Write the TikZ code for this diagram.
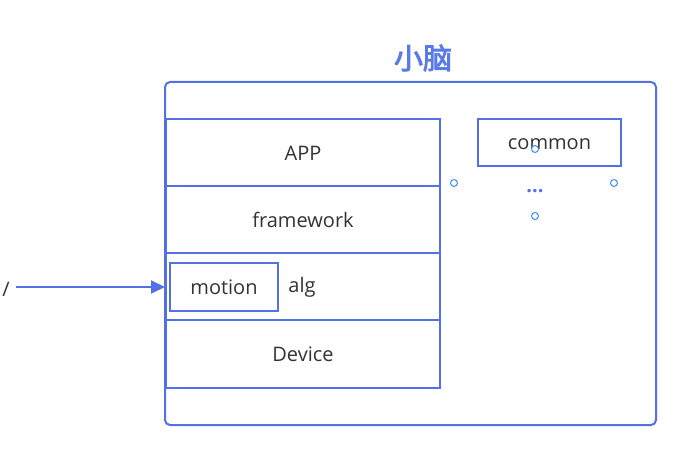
\documentclass[tikz,border=0pt]{standalone}
\usepackage{fontspec}
\setmainfont{Open Sans}
\newfontfamily\cjk{Noto Sans CJK SC}[AutoFakeBold=3]
\usetikzlibrary{arrows.meta}
\definecolor{lineblue}{HTML}{5470E6}
\definecolor{titleblue}{HTML}{5A7AE8}
\definecolor{dotblue}{HTML}{3D8EF2}
\definecolor{txt}{HTML}{333333}
\tikzset{
  layer/.style={draw=lineblue, line width=2pt, minimum width=274pt, minimum height=67pt, inner sep=0pt, text=txt, font=\fontsize{20}{24}\selectfont},
  smallbox/.style={draw=lineblue, line width=2pt, inner sep=0pt, text=txt, font=\fontsize{20}{24}\selectfont},
  handle/.style={circle, draw=dotblue, line width=1pt, fill=white, minimum size=7pt, inner sep=0pt},
}
\begin{document}
\begin{tikzpicture}[x=1pt,y=-1pt]
\useasboundingbox (0,0) rectangle (691,462);
% outer container
\draw[lineblue, line width=2pt, rounded corners=5pt] (165,82) rectangle (656,425);
\node[font=\cjk\bfseries\fontsize{29}{32}\selectfont, text=titleblue] (title) at (423,58) {小脑};
% stack
\node[layer] (app) at (303,153) {APP};
\node[layer] (fw) at (303,220) {framework};
\node[layer] (alg) at (303,287) {};
\node[layer] (dev) at (303,354) {Device};
\node[smallbox, minimum width=108pt, minimum height=48pt] (motion) at (224,287) {motion};
\node[text=txt, font=\fontsize{20}{24}\selectfont] (algt) at (302,287) {alg};
% common
\node[smallbox, minimum width=143pt, minimum height=47pt, text height=15pt, text depth=0.4pt] (common) at (549.5,142.5) {common};
\node[text=lineblue, font=\bfseries\fontsize{20}{24}\selectfont] (dots) at (535,191) {...};
% handles
\node[handle] (h1) at (454,183) {};
\node[handle] (h2) at (614,183) {};
\node[handle] (h3) at (535,149) {};
\node[handle] (h4) at (535,216) {};
% arrow
\node[text=txt, font=\fontsize{20}{24}\selectfont, anchor=center] (src) at (6,289) {/};
\coordinate (start) at (16,287);
\draw[lineblue, line width=2pt, -{Triangle[length=14pt,width=13pt]}] (start) -- (alg.west);
\end{tikzpicture}
\end{document}
